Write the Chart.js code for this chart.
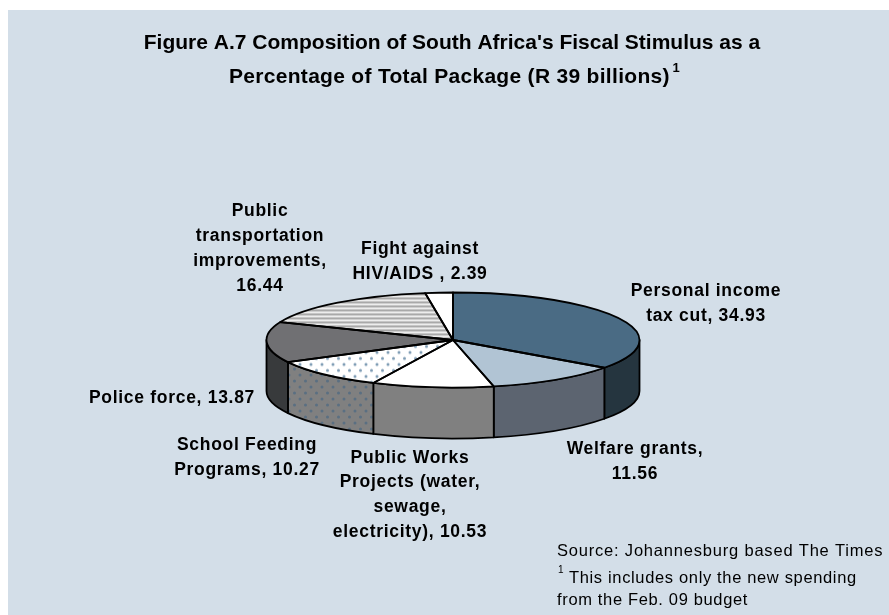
<!DOCTYPE html>
<html><head><meta charset="utf-8">
<style>html,body{margin:0;padding:0;background:#fff}canvas{display:block}</style>
<script src="https://cdn.jsdelivr.net/npm/chart.js@4"></script></head>
<body><div style="width:889px;height:615px"><canvas id="c" width="889" height="615"></canvas></div>
<script>
const categories=["Personal income tax cut","Welfare grants","Public Works Projects (water, sewage, electricity)","School Feeding Programs","Police force","Public transportation improvements","Fight against HIV/AIDS"];
const values=[34.93,11.56,10.53,10.27,13.87,16.44,2.39];
const labelLines=[["Personal income","tax cut, 34.93"],["Welfare grants,","11.56"],["Public Works","Projects (water,","sewage,","electricity), 10.53"],["School Feeding","Programs, 10.27"],["Police force, 13.87"],["Public","transportation","improvements,","16.44"],["Fight against","HIV/AIDS , 2.39"]];
const labelAnchors=[[706,296],[635,454],[410,462.5],[247,450],[172,402.5],[260,216],[420,254]];
const titleLines=["Figure A.7 Composition of South Africa's Fiscal Stimulus as a","Percentage of Total Package (R 39 billions)"];
const noteLines=["Source: Johannesburg based The Times","This includes only the new spending","from the Feb. 09 budget"];
const BG="#D3DEE8",SQ=47.5/186.5,DEPTH=51;
function pat(bg,fn,w,h){const p=document.createElement('canvas');p.width=w;p.height=h;const x=p.getContext('2d');x.fillStyle=bg;x.fillRect(0,0,w,h);fn(x);
  return document.createElement('canvas').getContext('2d').createPattern(p,'repeat');}
function dots(bg,fg){return pat(bg,x=>{x.fillStyle=fg;x.beginPath();x.arc(3,3,1.5,0,7);x.arc(8.5,9,1.5,0,7);x.fill();},11,12);}
const stripes=pat('#EDEDED',x=>{x.fillStyle='#A9A9A9';x.fillRect(0,0,4,2);},4,4);
const dotTop=dots('#FFFFFF','#7F9DB5'),dotSide=dots('#808080','#5A6F82');
[dotTop,stripes].forEach(p=>p.setTransform(new DOMMatrix().scale(1,1/SQ)));
const topColors=["#4A6B84","#B1C4D4","#FFFFFF",dotTop,"#707073",stripes,"#FFFFFF"];
const sideColors=["#25353F","#5C6470","#808080",dotSide,"#383A3C","#808080","#808080"];
const LW=1.8;
const pie3d={id:'pie3d',
 beforeDatasetsDraw(ch){const c=ch.ctx,arcs=ch.getDatasetMeta(0).data;if(!arcs.length)return;
  const a0=arcs[0],cx=a0.x,cy=a0.y,rx=a0.outerRadius,ry=rx*SQ;
  c.save();c.lineJoin='round';c.lineWidth=LW;c.strokeStyle='#000';
  const norm=[];arcs.forEach((a,i)=>{[0,2*Math.PI].forEach(sh=>{const s=Math.max(a.startAngle+sh,0),e=Math.min(a.endAngle+sh,Math.PI);if(e>s)norm.push([s,e,i]);});});
  norm.forEach(([s,e,i])=>{c.beginPath();c.ellipse(cx,cy,rx,ry,0,s,e);c.ellipse(cx,cy+DEPTH,rx,ry,0,e,s,true);c.closePath();c.fillStyle=sideColors[i];c.fill();c.stroke();});
  c.restore();
  c.save();c.translate(cx,cy);c.scale(1,SQ);c.translate(-cx,-cy);ch.$pushed=true;},
 afterDatasetsDraw(ch){if(!ch.$pushed)return;const c=ch.ctx,arcs=ch.getDatasetMeta(0).data;c.restore();ch.$pushed=false;
  const a0=arcs[0],cx=a0.x,cy=a0.y,rx=a0.outerRadius,ry=rx*SQ;
  c.save();c.lineJoin='round';c.lineWidth=LW;c.strokeStyle='#000';
  arcs.forEach(a=>{c.beginPath();c.moveTo(cx,cy);c.ellipse(cx,cy,rx,ry,0,a.startAngle,a.endAngle);c.closePath();c.stroke();});
  c.restore();},
 afterDraw(ch){const c=ch.ctx;c.save();c.fillStyle='#000';c.textAlign='center';c.textBaseline='alphabetic';
  c.font='bold 21px "Liberation Sans"';
  c.fillText(titleLines[0],452,49);
  c.letterSpacing='0.3px';c.textAlign='left';c.fillText(titleLines[1],229,82.5);
  c.letterSpacing='0px';c.font='bold 13px "Liberation Sans"';c.fillText('1',672.5,72);
  c.textAlign='center';c.font='bold 17.5px "Liberation Sans"';c.letterSpacing='0.7px';
  labelLines.forEach((ls,i)=>ls.forEach((t,j)=>c.fillText(t,labelAnchors[i][0],labelAnchors[i][1]+j*24.9)));
  c.textAlign='left';c.font='16.5px "Liberation Sans"';c.letterSpacing='0.8px';
  c.fillText(noteLines[0],557,556);c.letterSpacing='0.65px';c.fillText(noteLines[1],569,583);c.fillText(noteLines[2],557,605);
  c.letterSpacing='0px';c.font='10px "Liberation Sans"';c.fillText('1',558,573);
  c.restore();}
};
new Chart(document.getElementById('c'),{type:'pie',
 data:{labels:categories,datasets:[{data:values,backgroundColor:topColors,borderWidth:0,hoverOffset:0}]},
 options:{responsive:false,animation:false,rotation:0,
  layout:{padding:{left:266.5,right:249.5,top:153.5,bottom:88.5}},
  plugins:{legend:{display:false},title:{display:false},tooltip:{enabled:false}}},
 plugins:[{id:'bg',beforeDraw(ch){ch.ctx.fillStyle=BG;ch.ctx.fillRect(8,10,881,605);}},pie3d]});
</script></body></html>
